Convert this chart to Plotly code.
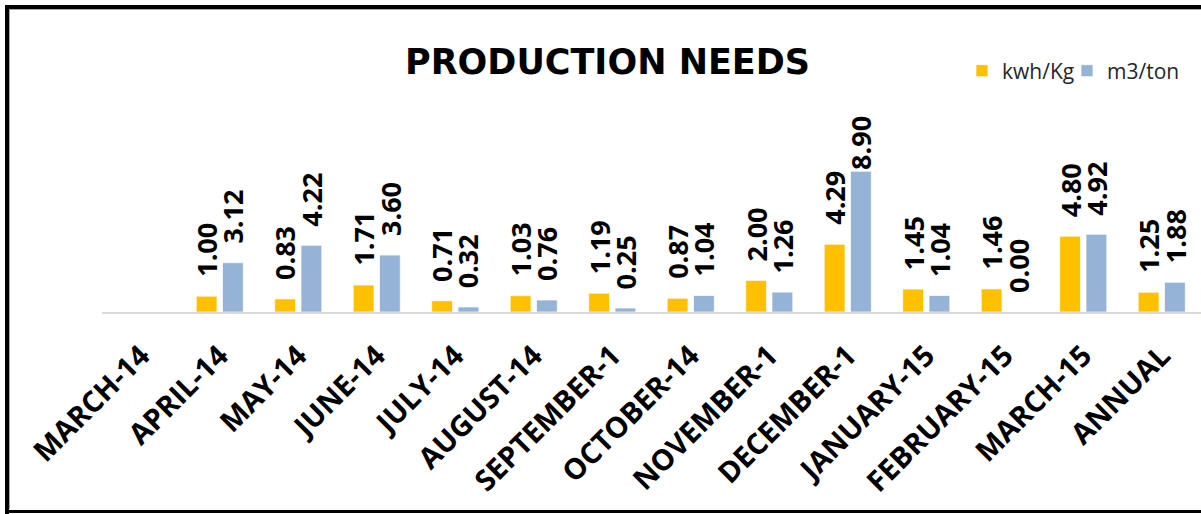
import plotly.graph_objects as go

# Monthly production needs, March 2014 - March 2015 plus the annual figure
categories = ["MARCH-14", "APRIL-14", "MAY-14", "JUNE-14", "JULY-14", "AUGUST-14",
              "SEPTEMBER-1", "OCTOBER-14", "NOVEMBER-1", "DECEMBER-1",
              "JANUARY-15", "FEBRUARY-15", "MARCH-15", "ANNUAL"]
kwh_per_kg = [None, 1.00, 0.83, 1.71, 0.71, 1.03, 1.19, 0.87, 2.00, 4.29, 1.45, 1.46, 4.80, 1.25]
m3_per_ton = [None, 3.12, 4.22, 3.60, 0.32, 0.76, 0.25, 1.04, 1.26, 8.90, 1.04, 0.00, 4.92, 1.88]

YELLOW = "#FFC000"
BLUE = "#95B3D7"

W, H = 1201, 514
M_L, M_R, M_T, M_B = 102, 0, 156, 202
BARGAP, GROUPGAP = 0.33, 0.21
Y_MAX = 9.87

# value labels sit a fixed gap above the bar, but never rise past the chart's top band
LABEL_GAP = 17
LABEL_LEN = 54
LABEL_CEIL = 194          # px above the baseline
PX_PER_UNIT = (H - M_T - M_B) / Y_MAX

fig = go.Figure()
series = [("kwh/Kg", kwh_per_kg, YELLOW, "legend", 962),
          ("m3/ton", m3_per_ton, BLUE, "legend2", 1067)]
for name, vals, color, leg, _ in series:
    fig.add_trace(go.Bar(
        x=categories, y=vals, name=name, legend=leg, showlegend=True,
        marker=dict(color=color, line=dict(color="rgba(255,255,255,0.7)", width=1)),
    ))

half = (1 - BARGAP) / 4
for sign, vals in [(-1, kwh_per_kg), (1, m3_per_ton)]:
    for i, v in enumerate(vals):
        if v is None:
            continue
        shift = min(LABEL_GAP, LABEL_CEIL - LABEL_LEN - v * PX_PER_UNIT)
        fig.add_annotation(
            x=i + sign * half, y=v, xref="x", yref="y",
            text=f"{v:.2f}", showarrow=False, textangle=-90,
            yanchor="bottom", xanchor="center", yshift=shift,
            font=dict(family="Open Sans", size=27, color="black", weight="bold"),
        )

# chart frame
def px_x(p):
    return (p - M_L) / (W - M_L - M_R)

def px_y(p):
    return (H - M_B - p) / (H - M_T - M_B)

frame = [
    (5, 7, W, 7, "black", 4),
    (7, 5, 7, H, "black", 4),
    (5, 511.5, W, 511.5, "black", 3),
    (9, 9.5, W, 9.5, "#A6A6A6", 1),
    (9.5, 9, 9.5, 509, "#A6A6A6", 1),
]
for x0, y0, x1, y1, c, w in frame:
    fig.add_shape(type="line", xref="paper", yref="paper",
                  x0=px_x(x0), y0=px_y(y0), x1=px_x(x1), y1=px_y(y1),
                  line=dict(color=c, width=w), layer="above")

legend_style = dict(orientation="h", xref="container", yref="container",
                    xanchor="left", y=1 - 71 / H, yanchor="middle", visible=True,
                    font=dict(family="Open Sans", size=21, color="#262626"),
                    bgcolor="rgba(0,0,0,0)")

fig.update_layout(
    width=W, height=H, showlegend=True,
    margin=dict(l=M_L, r=M_R, t=M_T, b=M_B, autoexpand=False),
    paper_bgcolor="white", plot_bgcolor="white",
    barmode="group", bargap=BARGAP, bargroupgap=GROUPGAP,
    title=dict(text="PRODUCTION NEEDS", x=607.5 / W, xanchor="center",
               y=1 - 61.5 / H, yanchor="middle", xref="container", yref="container",
               font=dict(family="DejaVu Sans", size=35, color="black", weight="bold")),
    legend=dict(x=series[0][4] / W, **legend_style),
    legend2=dict(x=series[1][4] / W, **legend_style),
    xaxis=dict(type="category", tickangle=-45, showline=True, linecolor="#D9D9D9",
               linewidth=2, showgrid=False, ticks="outside", ticklen=13,
               tickcolor="rgba(0,0,0,0)", automargin=False,
               tickfont=dict(family="Open Sans", size=29, color="black", weight="bold")),
    yaxis=dict(range=[0, Y_MAX], visible=False, showgrid=False, zeroline=False),
)

fig.write_html("out.html")
